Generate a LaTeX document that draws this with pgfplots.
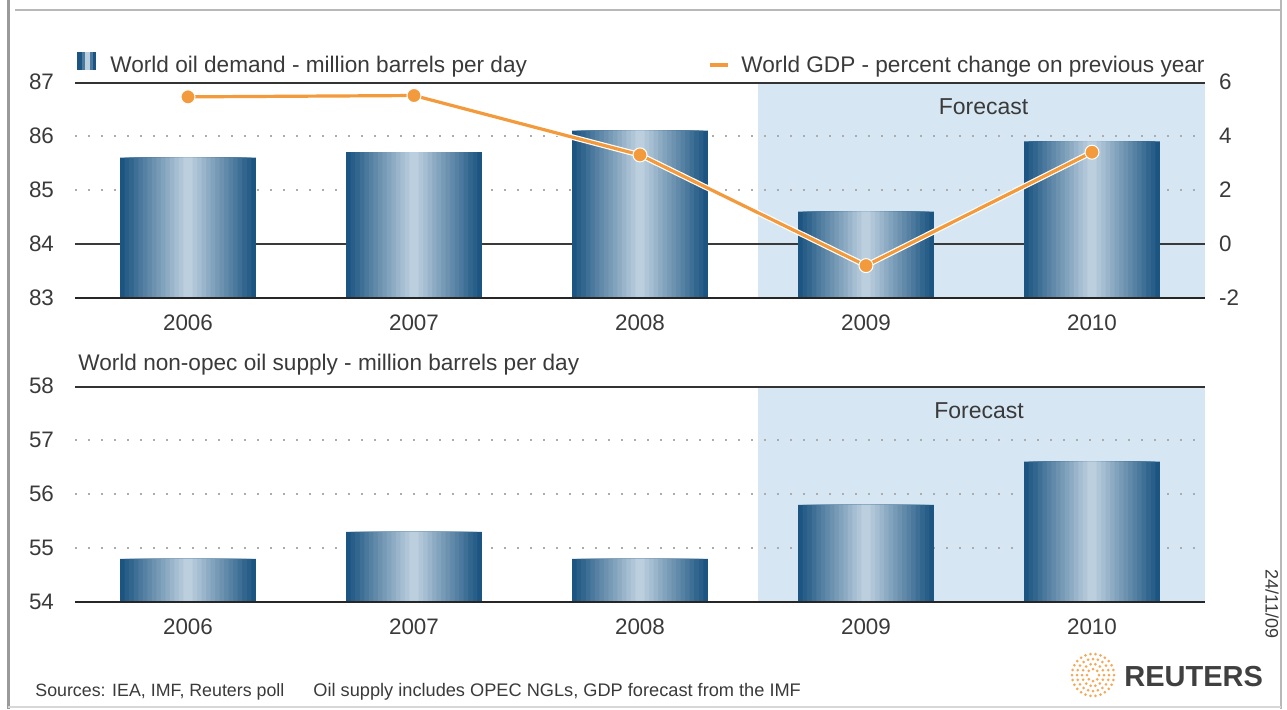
\documentclass[border=0pt]{standalone}
\usepackage{pgfplots}
\usepackage{pgfplotstable}
\pgfplotsset{compat=1.18}
\usepackage{fontspec}
\setmainfont{Liberation Sans}
\definecolor{txt}{HTML}{3A3A3A}
\definecolor{barDark}{HTML}{1D5582}
\definecolor{barLight}{HTML}{BBCFDE}
\definecolor{fc}{HTML}{D6E7F3}
\definecolor{gdp}{HTML}{F29A3C}
\definecolor{frame}{HTML}{9A9A9A}
\tikzset{dotgrid/.style={gray!65, line width=1.1pt, dash pattern=on 1.1pt off 5.4pt}}
\pgfplotstableread{
x y
0 85.6
1 85.7
2 86.1
3 84.6
4 85.9
}\demand
\pgfplotstableread{
x y
0 5.45
1 5.5
2 3.3
3 -0.8
4 3.4
}\gdpdata
\pgfplotstableread{
x y
0 54.8
1 55.3
2 54.8
3 55.8
4 56.6
}\supply
\pgfplotsset{
  base/.style={
    scale only axis, width=565pt, height=108pt,
    xmin=-0.5, xmax=4.5,
    axis line style={draw=none}, tick style={draw=none},
    /pgf/number format/assume math mode=true,
    tick label style={font=\fontsize{11.2}{13}\selectfont, text=txt},
    xtick={0,1,2,3,4}, xticklabels={2006,2007,2008,2009,2010},
    xticklabel style={yshift=-5pt},
    clip=true,
  },
}
\newcommand\gb[3]{\addplot[ybar, draw=none, bar width=#1, fill=barLight!#2!barDark] table[x=x,y=y] {#3};}
\newcommand\gradbars[1]{%
  \gb{0.60}{0}{#1}\gb{0.56}{7}{#1}\gb{0.52}{14}{#1}\gb{0.48}{21}{#1}\gb{0.44}{29}{#1}%
  \gb{0.40}{36}{#1}\gb{0.36}{43}{#1}\gb{0.32}{50}{#1}\gb{0.28}{57}{#1}\gb{0.24}{64}{#1}%
  \gb{0.20}{71}{#1}\gb{0.16}{79}{#1}\gb{0.12}{86}{#1}\gb{0.08}{93}{#1}\gb{0.04}{100}{#1}}
\begin{document}
\begin{tikzpicture}
\path[use as bounding box] (0,0) rectangle (643.5pt,-354.5pt);
% frame
\draw[frame, line width=1.5pt] (4pt,0) -- (4pt,-354.5pt);
\draw[frame!70, line width=1pt] (7.5pt,-5pt) -- (640pt,-5pt);
\draw[frame!70, line width=1pt] (640.5pt,0) -- (640.5pt,-354.5pt);
\draw[frame!40, line width=0.6pt] (4pt,-353.5pt) -- (640.5pt,-353.5pt);

% ---------- top chart ----------
\begin{axis}[base, at={(37.5pt,-149pt)}, anchor=south west,
  ymin=83, ymax=87, ytick={83,84,85,86,87}, yticklabel style={xshift=-7pt}]
  \fill[fc] (axis cs:2.52,83) rectangle (axis cs:4.5,87);
  \draw[dotgrid] (axis cs:-0.5,86) -- (axis cs:4.5,86);
  \draw[dotgrid] (axis cs:-0.5,85) -- (axis cs:4.5,85);
  \draw[txt, line width=1pt] (axis cs:-0.5,84) -- (axis cs:4.5,84);
  \gradbars{\demand}
  \draw[black!85, line width=1.2pt] (axis cs:-0.5,83) -- (axis cs:4.5,83);
  \draw[black!80, line width=1.6pt] (axis cs:-0.5,87) -- (axis cs:4.5,87);
  \node[text=txt, font=\fontsize{11.5}{13}\selectfont] at (axis cs:3.52,86.55) {Forecast};
\end{axis}
\begin{axis}[base, at={(37.5pt,-149pt)}, anchor=south west,
  ymin=-2, ymax=6, ytick={-2,0,2,4,6},
  axis x line=none, axis y line*=right,
  yticklabel style={xshift=3.5pt}]
  \addplot[gdp, line width=1.6pt, preaction={draw=white, line width=2.8pt},
    mark=*, mark size=3.5pt, mark options={fill=gdp, draw=white, line width=0.5pt}]
    table[x=x,y=y] {\gdpdata};
\end{axis}
% legends
\fill[barDark] (38.5pt,-26pt) rectangle (48pt,-35pt);
\fill[barDark!70!barLight] (41pt,-26pt) rectangle (46.5pt,-35pt);
\fill[barLight] (42.5pt,-26pt) rectangle (45pt,-35pt);
\node[anchor=base west, text=txt, font=\fontsize{11.3}{13}\selectfont, inner sep=0] at (55pt,-36pt) {World oil demand - million barrels per day};
\draw[gdp, line width=1.6pt] (355pt,-32.5pt) -- (364pt,-32.5pt);
\node[anchor=base east, text=txt, font=\fontsize{11.3}{13}\selectfont, inner sep=0] at (602.5pt,-36pt) {World GDP - percent change on previous year};

% ---------- bottom chart ----------
\node[anchor=base west, text=txt, font=\fontsize{11.3}{13}\selectfont, inner sep=0] at (39pt,-185pt) {World non-opec oil supply - million barrels per day};
\begin{axis}[base, at={(37.5pt,-301pt)}, anchor=south west,
  ymin=54, ymax=58, ytick={54,55,56,57,58}, yticklabel style={xshift=-7pt}]
  \fill[fc] (axis cs:2.52,54) rectangle (axis cs:4.5,58);
  \draw[dotgrid] (axis cs:-0.5,57) -- (axis cs:4.5,57);
  \draw[dotgrid] (axis cs:-0.5,56) -- (axis cs:4.5,56);
  \draw[dotgrid] (axis cs:-0.5,55) -- (axis cs:4.5,55);
  \gradbars{\supply}
  \draw[black!85, line width=1.2pt] (axis cs:-0.5,54) -- (axis cs:4.5,54);
  \draw[black!80, line width=1.6pt] (axis cs:-0.5,58) -- (axis cs:4.5,58);
  \node[text=txt, font=\fontsize{11.5}{13}\selectfont] at (axis cs:3.5,57.55) {Forecast};
\end{axis}

% footer
\node[anchor=base west, text=txt, font=\fontsize{8.9}{10}\selectfont, inner sep=0] at (17.5pt,-348pt) {Sources: IEA, IMF, Reuters poll};
\node[anchor=base west, text=txt, font=\fontsize{9.1}{10}\selectfont, inner sep=0] at (156.5pt,-348pt) {Oil supply includes OPEC NGLs, GDP forecast from the IMF};
\node[rotate=-90, text=txt, font=\fontsize{9}{10}\selectfont] at (636pt,-302pt) {24/11/09};
% Reuters logo
\foreach \r/\n in {3/8, 5.5/14, 8/20, 10.5/26}{
  \foreach \k in {1,...,\n}{
    \fill[gdp!85] ({546.5pt+\r*cos(360*\k/\n)*1pt},{-337.5pt+\r*sin(360*\k/\n)*1pt}) circle (0.75pt);
  }
}
\node[anchor=base west, text=black!75, font=\fontsize{14.5}{16}\selectfont\bfseries, inner sep=0] at (562pt,-343pt) {REUTERS};
\end{tikzpicture}
\end{document}
